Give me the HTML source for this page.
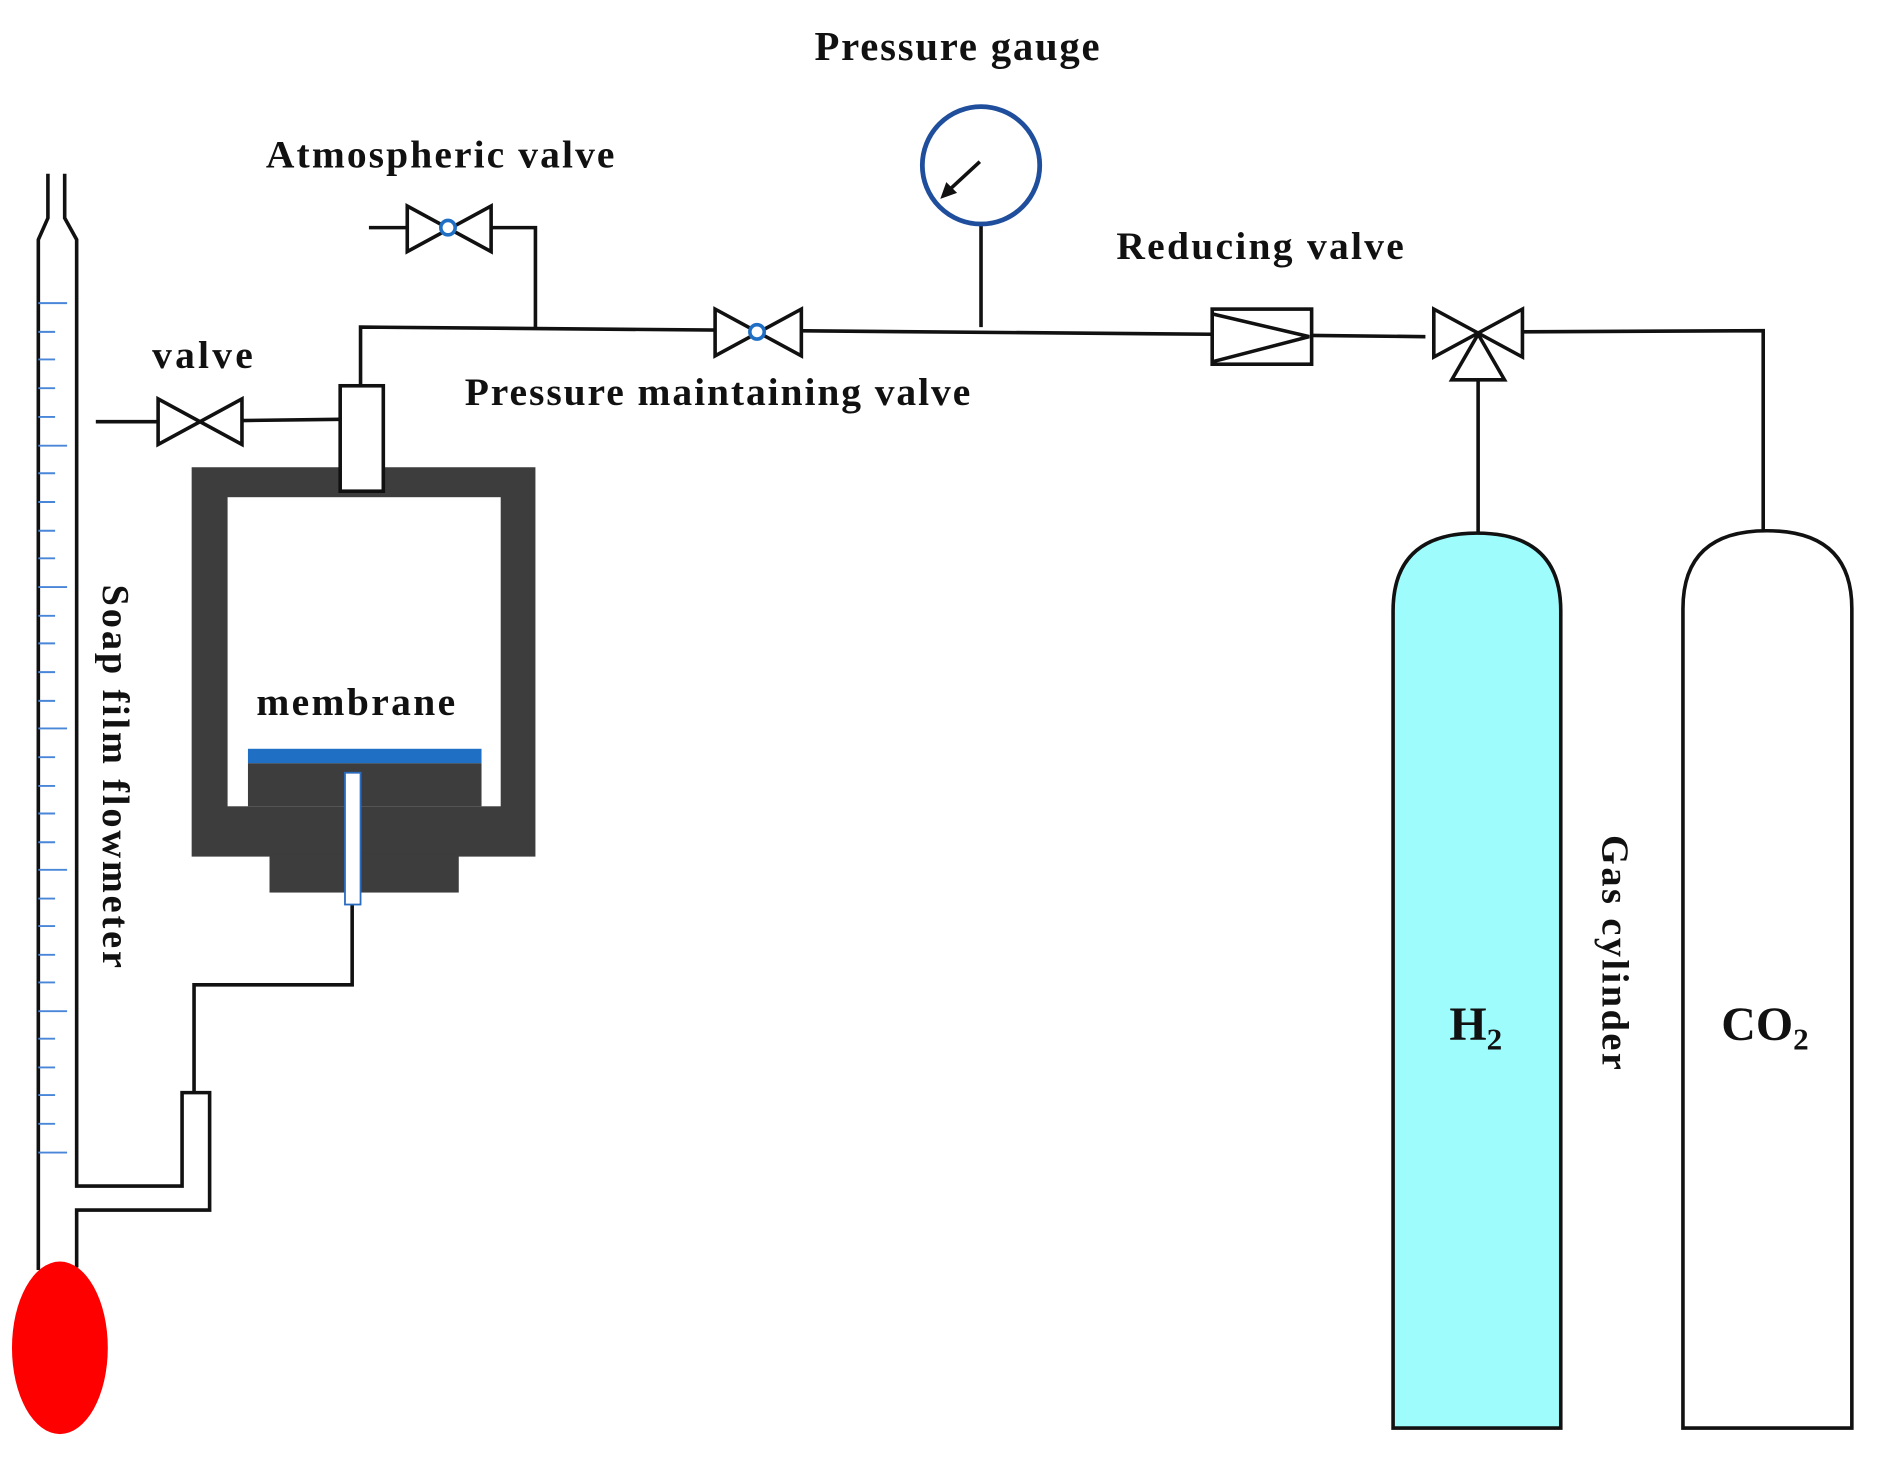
<!DOCTYPE html>
<html><head><meta charset="utf-8"><style>
html,body{margin:0;padding:0;background:#fff;}
svg{display:block;}
text{font-family:"Liberation Serif",serif;font-weight:bold;fill:#111;}
</style></head><body>
<svg width="1877" height="1482" viewBox="0 0 1567 1237" preserveAspectRatio="none" xmlns="http://www.w3.org/2000/svg">
<g fill="none" stroke="#111" stroke-width="3">
<polyline points="40,145 40,182 32,200 32,1060"/>
<polyline points="54,145 54,182 64,200 64,990 152,990 152,912 175,912 175,1010 64,1010 64,1058"/>
<polyline points="162,912 162,822 294,822 294,755"/>
</g>
<g stroke="#4a86d8" stroke-width="1.6">
<line x1="32" y1="253" x2="56" y2="253"/><line x1="32" y1="277" x2="46" y2="277"/><line x1="32" y1="300" x2="46" y2="300"/><line x1="32" y1="324" x2="46" y2="324"/><line x1="32" y1="348" x2="46" y2="348"/>
<line x1="32" y1="372" x2="56" y2="372"/><line x1="32" y1="395" x2="46" y2="395"/><line x1="32" y1="419" x2="46" y2="419"/><line x1="32" y1="443" x2="46" y2="443"/><line x1="32" y1="466" x2="46" y2="466"/>
<line x1="32" y1="490" x2="56" y2="490"/><line x1="32" y1="514" x2="46" y2="514"/><line x1="32" y1="537" x2="46" y2="537"/><line x1="32" y1="561" x2="46" y2="561"/><line x1="32" y1="585" x2="46" y2="585"/>
<line x1="32" y1="608" x2="56" y2="608"/><line x1="32" y1="632" x2="46" y2="632"/><line x1="32" y1="656" x2="46" y2="656"/><line x1="32" y1="679" x2="46" y2="679"/><line x1="32" y1="703" x2="46" y2="703"/>
<line x1="32" y1="726" x2="56" y2="726"/><line x1="32" y1="750" x2="46" y2="750"/><line x1="32" y1="773" x2="46" y2="773"/><line x1="32" y1="797" x2="46" y2="797"/><line x1="32" y1="820" x2="46" y2="820"/>
<line x1="32" y1="844" x2="56" y2="844"/><line x1="32" y1="867" x2="46" y2="867"/><line x1="32" y1="891" x2="46" y2="891"/><line x1="32" y1="914" x2="46" y2="914"/><line x1="32" y1="938" x2="46" y2="938"/>
<line x1="32" y1="962" x2="56" y2="962"/>
</g>
<ellipse cx="50" cy="1125" rx="40" ry="72" fill="#ff0000"/>
<rect x="160" y="390" width="287" height="325" fill="#3d3d3d"/>
<rect x="190" y="415" width="228" height="258" fill="#fff"/>
<rect x="207" y="637" width="195" height="36" fill="#3d3d3d"/>
<rect x="225" y="712" width="158" height="33" fill="#3d3d3d"/>
<rect x="207" y="625" width="195" height="12" fill="#1f6fc4"/>
<rect x="288" y="645" width="13" height="110" fill="#fff" stroke="#2a6cc0" stroke-width="1.5"/>
<g fill="none" stroke="#111" stroke-width="3">
<rect x="284" y="322" width="36" height="88" fill="#fff"/>
<polyline points="301,322 301,273 1012,279"/>
<polyline points="447,273 447,190 410,190"/>
<line x1="308" y1="190" x2="340" y2="190"/>
<polygon points="340,172 340,210 410,172 410,210" fill="#fff"/>
<line x1="80" y1="352" x2="132" y2="352"/>
<line x1="202" y1="351" x2="284" y2="350"/>
<polygon points="132,333 132,371 202,333 202,371" fill="#fff"/>
<polygon points="597,258 597,297 669,258 669,297" fill="#fff"/>
<line x1="819" y1="187" x2="819" y2="273"/>
<rect x="1012" y="258" width="83" height="46" fill="#fff"/>
<polyline points="1012,262 1093,281 1012,302"/>
<line x1="1095" y1="280" x2="1190" y2="281"/>
<polygon points="1197,258 1197,298 1271,258 1271,298"/>
<polygon points="1234,279 1256,317 1212,317" fill="#fff"/>
<polyline points="1271,277 1472,276 1472,443"/>
<line x1="1234" y1="317" x2="1234" y2="445"/>
<path d="M1163,1192 L1163,510 Q1163,445 1233,445 Q1303,445 1303,510 L1303,1192 Z" fill="#9ffcfd"/>
<path d="M1405,1192 L1405,508 Q1405,443 1475,443 Q1546,443 1546,508 L1546,1192 Z" fill="#fff"/>
</g>
<circle cx="374" cy="190" r="6" fill="#fff" stroke="#1f6fc4" stroke-width="3"/>
<circle cx="632" cy="277" r="6" fill="#fff" stroke="#1f6fc4" stroke-width="3"/>
<circle cx="819" cy="138" r="49" fill="#fff" stroke="#1f4e9c" stroke-width="4"/>
<line x1="818" y1="135" x2="792" y2="159" stroke="#111" stroke-width="3"/>
<polygon points="785,166 790,152 799,161" fill="#111"/>
<text x="680" y="50" font-size="34" textLength="238" lengthAdjust="spacing">Pressure gauge</text>
<text x="222" y="140" font-size="33" textLength="291" lengthAdjust="spacing">Atmospheric valve</text>
<text x="127" y="307" font-size="33" textLength="84" lengthAdjust="spacing">valve</text>
<text x="388" y="338" font-size="33" textLength="422" lengthAdjust="spacing">Pressure maintaining valve</text>
<text x="932" y="216" font-size="33" textLength="240" lengthAdjust="spacing">Reducing valve</text>
<text x="214" y="597" font-size="33" textLength="166" lengthAdjust="spacing">membrane</text>
<text transform="translate(86,488) rotate(90)" font-size="32" textLength="320" lengthAdjust="spacing">Soap film flowmeter</text>
<text transform="translate(1338,697) rotate(90)" font-size="32" textLength="196" lengthAdjust="spacing">Gas cylinder</text>
<text x="1210" y="868" font-size="40">H<tspan font-size="26" dy="8">2</tspan></text>
<text x="1437" y="868" font-size="40">CO<tspan font-size="26" dy="8">2</tspan></text>
</svg>
</body></html>
